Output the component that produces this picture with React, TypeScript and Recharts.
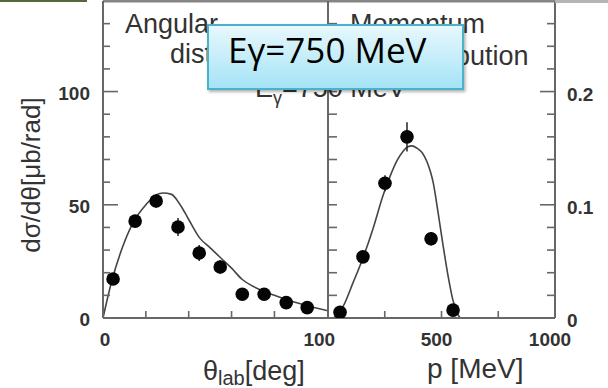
import React from 'react';
import { ComposedChart, Line, Scatter, XAxis, YAxis, ErrorBar } from 'recharts';

// ---------- data ----------
const angleCurveX = [0, 4, 9, 14, 20, 25, 28, 32, 36, 40, 45, 50, 55, 60, 65, 70, 75, 80, 85, 90, 95, 100, 105];
const angleCurveY = [0, 16, 31, 42, 50, 54.5, 55.2, 54.6, 50, 43.5, 35.5, 31, 26.5, 22, 17, 14, 11.8, 10, 8.3, 6.8, 5.5, 4.3, 3.2];

const anglePointX = [4.7, 15, 24.8, 35, 44.9, 54.7, 65, 75.2, 85.5, 95.3];
const anglePointY = [17.2, 42.8, 51.7, 40.2, 28.7, 22.5, 10.5, 10.5, 6.8, 4.6];
const anglePointErr = [2, 2.5, 3, 4, 3.5, 3, 2.5, 2, 1.5, 1.5];

const momCurveX = [25, 66, 110, 154, 200, 242, 275, 304, 330, 350, 370, 392, 415, 436, 450, 463, 485, 507, 530, 550, 568, 582];
const momCurveY = [0, 0.01, 0.031, 0.053, 0.08, 0.108, 0.126, 0.139, 0.147, 0.151, 0.152, 0.15, 0.146, 0.138, 0.13, 0.12, 0.093, 0.064, 0.036, 0.016, 0.005, 0];

const momPointX = [53, 154, 251, 348, 454, 551];
const momPointY = [0.005, 0.054, 0.119, 0.16, 0.07, 0.007];
const momPointErr = [0.004, 0.005, 0.007, 0.013, 0.006, 0.004];

// ticks and tick labels
const angleXTicks = [0, 20, 40, 60, 80, 100];
const angleXLabels = [0, 100];
const angleYTicks = [0, 10, 20, 30, 40, 50, 60, 70, 80, 90, 100, 110, 120, 130];
const angleYLabels = [0, 50, 100];
const angleYMajors = [50, 100];

const momXTicks = [0, 250, 500, 750, 1000];
const momXLabels = [500, 1000];
const momTopTicks = [250, 500, 750];
const momYTicks = [0, 0.02, 0.04, 0.06, 0.08, 0.1, 0.12, 0.14, 0.16, 0.18, 0.2, 0.22, 0.24, 0.26];
const momYLabels = [0, 0.1, 0.2];
const momYMajors = [0.1, 0.2];

const angleCurve = angleCurveX.map((x, i) => ({ x, y: angleCurveY[i] }));
const anglePoints = anglePointX.map((x, i) => ({ x, y: anglePointY[i], e: anglePointErr[i] }));
const momCurve = momCurveX.map((x, i) => ({ x, y: momCurveY[i] }));
const momPoints = momPointX.map((x, i) => ({ x, y: momPointY[i], e: momPointErr[i] }));

// ---------- layout ----------
const W = 608;
const H = 388;
const LEFT_X = 103;
const MID_X = 328;
const RIGHT_X = 555;
const TOP_Y = 1;
const BOTTOM_Y = 318;

const AXIS = '#676767';
const CURVE = '#444';
const SANS = '"Liberation Sans", Arial, Helvetica, sans-serif';
const NUM = { fontFamily: SANS, fontWeight: 700, fontSize: 19, fill: '#333' } as const;

type Orient = 'left' | 'right' | 'bottom' | 'top';
interface TickOpts {
  orient: Orient;
  margin: number;
  majors?: number[];
  labels?: number[];
  majorLen: number;
  minorLen: number;
  dx?: number;
  dy?: number;
  skipLine?: number[];
}

function fmt(v: number) {
  return String(v);
}

function makeTick(o: TickOpts) {
  return (props: any) => {
    const { x, y, payload } = props;
    const v = payload.value as number;
    const len = o.majors && o.majors.includes(v) ? o.majorLen : o.minorLen;
    const showLine = !(o.skipLine && o.skipLine.includes(v));
    const showLabel = o.labels ? o.labels.includes(v) : false;
    let line: React.ReactNode = null;
    let label: React.ReactNode = null;
    if (o.orient === 'left') {
      const ax = x + o.margin;
      if (showLine) line = <line x1={ax} y1={y} x2={ax + len} y2={y} stroke={AXIS} strokeWidth={1.6} />;
      if (showLabel) label = <text x={x + (o.dx || 0)} y={y + (o.dy || 0)} textAnchor="end" {...NUM}>{fmt(v)}</text>;
    } else if (o.orient === 'right') {
      const ax = x - o.margin;
      if (showLine) line = <line x1={ax} y1={y} x2={ax - len} y2={y} stroke={AXIS} strokeWidth={1.6} />;
      if (showLabel) label = <text x={x + (o.dx || 0)} y={y + (o.dy || 0)} textAnchor="start" {...NUM}>{fmt(v)}</text>;
    } else if (o.orient === 'bottom') {
      const ay = y - o.margin;
      if (showLine) line = <line x1={x} y1={ay} x2={x} y2={ay - len} stroke={AXIS} strokeWidth={1.6} />;
      if (showLabel) label = <text x={x + (o.dx || 0)} y={ay + (o.dy || 0)} textAnchor="middle" {...NUM}>{fmt(v)}</text>;
    } else {
      const ay = y + o.margin;
      if (showLine) line = <line x1={x} y1={ay} x2={x} y2={ay + len} stroke={AXIS} strokeWidth={1.6} />;
    }
    return (
      <g>
        {line}
        {label}
      </g>
    );
  };
}

const Dot = (props: any) => {
  const { cx, cy } = props;
  if (cx == null || cy == null) return null;
  return <circle cx={cx} cy={cy} r={6.8} fill="#050505" />;
};

const axisLine = { stroke: AXIS, strokeWidth: 2 };
const topLine = { stroke: '#858585', strokeWidth: 3 };

function AngularChart() {
  return (
    <ComposedChart
      width={W}
      height={H}
      margin={{ top: TOP_Y - 1, right: W - MID_X, bottom: H - BOTTOM_Y - 1, left: LEFT_X - 1 }}
    >
      <XAxis
        xAxisId="b"
        type="number"
        dataKey="x"
        domain={[0, 105]}
        allowDataOverflow
        ticks={angleXTicks}
        interval={0}
        height={1}
        tickSize={0}
        tickMargin={0}
        tickLine={false}
        axisLine={axisLine}
        tick={makeTick({ orient: 'bottom', margin: 0, labels: angleXLabels, majorLen: 7, minorLen: 7, dx: 2, dy: 28, skipLine: [0, 100] })}
      />
      <XAxis
        xAxisId="t"
        orientation="top"
        type="number"
        domain={[0, 105]}
        allowDataOverflow
        height={1}
        tick={false}
        tickLine={false}
        axisLine={topLine}
      />
      <YAxis
        yAxisId="l"
        type="number"
        dataKey="y"
        domain={[0, 140]}
        allowDataOverflow
        ticks={angleYTicks}
        interval={0}
        width={1}
        tickSize={0}
        tickMargin={13}
        tickLine={false}
        axisLine={axisLine}
        tick={makeTick({ orient: 'left', margin: 13, majors: angleYMajors, labels: angleYLabels, majorLen: 15, minorLen: 7, dy: 8, skipLine: [0] })}
      />
      <Line
        xAxisId="b"
        yAxisId="l"
        data={angleCurve}
        dataKey="y"
        type="monotone"
        dot={false}
        stroke={CURVE}
        strokeWidth={1.6}
        isAnimationActive={false}
      />
      <Scatter xAxisId="b" yAxisId="l" data={anglePoints} dataKey="y" shape={Dot} isAnimationActive={false}>
        <ErrorBar dataKey="e" direction="y" width={0} stroke="#222" strokeWidth={1.5} />
      </Scatter>
    </ComposedChart>
  );
}

function MomentumChart() {
  return (
    <ComposedChart
      width={W}
      height={H}
      margin={{ top: TOP_Y - 1, right: W - RIGHT_X - 1, bottom: H - BOTTOM_Y - 1, left: MID_X - 1 }}
    >
      <XAxis
        xAxisId="b"
        type="number"
        dataKey="x"
        domain={[0, 1000]}
        allowDataOverflow
        ticks={momXTicks}
        interval={0}
        height={1}
        tickSize={0}
        tickMargin={0}
        tickLine={false}
        axisLine={axisLine}
        tick={makeTick({ orient: 'bottom', margin: 0, labels: momXLabels, majorLen: 7, minorLen: 7, dx: -5, dy: 28, skipLine: [0, 1000] })}
      />
      <XAxis
        xAxisId="t"
        orientation="top"
        type="number"
        domain={[0, 1000]}
        allowDataOverflow
        ticks={momTopTicks}
        interval={0}
        height={1}
        tickSize={0}
        tickMargin={0}
        tickLine={false}
        axisLine={topLine}
        tick={makeTick({ orient: 'top', margin: 0, majorLen: 8, minorLen: 8 })}
      />
      <YAxis
        yAxisId="l"
        type="number"
        domain={[0, 0.28]}
        allowDataOverflow
        ticks={momYTicks}
        interval={0}
        width={1}
        tickSize={0}
        tickMargin={0}
        tickLine={false}
        axisLine={axisLine}
        tick={makeTick({ orient: 'left', margin: 0, majorLen: 9, minorLen: 9, skipLine: [0] })}
      />
      <YAxis
        yAxisId="r"
        orientation="right"
        type="number"
        dataKey="y"
        domain={[0, 0.28]}
        allowDataOverflow
        ticks={momYTicks}
        interval={0}
        width={1}
        tickSize={0}
        tickMargin={12}
        tickLine={false}
        axisLine={axisLine}
        tick={makeTick({ orient: 'right', margin: 12, majors: momYMajors, labels: momYLabels, majorLen: 15, minorLen: 8, dy: 9, skipLine: [0] })}
      />
      <Line
        xAxisId="b"
        yAxisId="r"
        data={momCurve}
        dataKey="y"
        type="monotone"
        dot={false}
        stroke={CURVE}
        strokeWidth={1.6}
        isAnimationActive={false}
      />
      <Scatter xAxisId="b" yAxisId="r" data={momPoints} dataKey="y" shape={Dot} isAnimationActive={false}>
        <ErrorBar dataKey="e" direction="y" width={0} stroke="#222" strokeWidth={1.5} />
      </Scatter>
    </ComposedChart>
  );
}

function Overlay() {
  const title = { fontFamily: SANS, fontSize: 27, fill: '#333' } as const;
  const axisTitle = { fontFamily: SANS, fontSize: 27, fill: '#333' } as const;
  return (
    <svg width={W} height={H} style={{ position: 'absolute', left: 0, top: 0, pointerEvents: 'none' }}>
      <defs>
        <linearGradient id="boxGrad" x1="0" y1="0" x2="0" y2="1">
          <stop offset="0" stopColor="#e8f8fd" />
          <stop offset="1" stopColor="#a4e3f6" />
        </linearGradient>
        <filter id="shadow" x="-10%" y="-20%" width="130%" height="150%">
          <feDropShadow dx="1.5" dy="2" stdDeviation="1.5" floodColor="#000" floodOpacity="0.3" />
        </filter>
      </defs>
      {/* slide remnants at the top edge */}
      <rect x={0} y={0} width={87} height={2} fill="#56683a" />
      <rect x={RIGHT_X} y={0} width={W - RIGHT_X} height={3} fill="#b5b5b5" />

      {/* panel titles (partly hidden under the label box) */}
      <text x={125} y={33} {...title}>Angular</text>
      <text x={170} y={63} {...title}>distribution</text>
      <text x={350} y={33} {...title}>Momentum</text>
      <text x={398} y={65} {...title}>distribution</text>
      <text x={255} y={97} {...title}>
        E<tspan fontSize={18} dy={7}>γ</tspan><tspan dy={-7}>=750 MeV</tspan>
      </text>

      {/* axis titles */}
      <text transform="translate(40,175) rotate(-90)" textAnchor="middle" {...axisTitle} fontSize={26}>dσ/dθ[μb/rad]</text>
      <text x={203} y={380} {...axisTitle}>
        θ<tspan fontSize={20} dy={5}>lab</tspan><tspan dy={-5}>[deg]</tspan>
      </text>
      <text x={427} y={378} {...axisTitle} fontSize={28}>p [MeV]</text>

      {/* overlay label box */}
      <rect x={208} y={25} width={255} height={64} fill="url(#boxGrad)" stroke="#4cb2cb" strokeWidth={2} filter="url(#shadow)" />
      <text x={228} y={63} fontFamily='"Open Sans", "Noto Sans", sans-serif' fontSize={35} fill="#000">Eγ=750 MeV</text>
    </svg>
  );
}

export default function App() {
  return (
    <div style={{ position: 'absolute', left: 0, top: 0, width: W, height: H, background: '#fff', overflow: 'hidden' }}>
      <div style={{ position: 'absolute', left: 0, top: 0 }}>
        <AngularChart />
      </div>
      <div style={{ position: 'absolute', left: 0, top: 0 }}>
        <MomentumChart />
      </div>
      <Overlay />
    </div>
  );
}
